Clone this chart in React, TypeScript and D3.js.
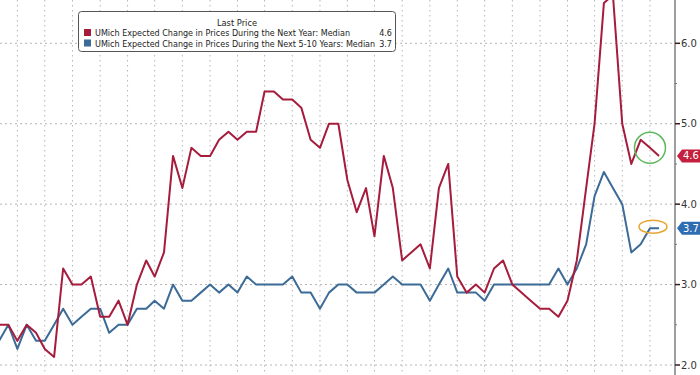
import React, { useEffect, useRef } from 'react';
import * as d3 from 'd3';

// monthly readings, Oct 2019 .. Oct 2025
const startMonth = new Date(2019, 9, 1);
const endMonth = new Date(2025, 9, 1);

const nextYear = [
  2.5, 2.5, 2.3,
  2.5, 2.4, 2.2, 2.1, 3.2, 3.0, 3.0, 3.1, 2.6, 2.6, 2.8, 2.5,
  3.0, 3.3, 3.1, 3.4, 4.6, 4.2, 4.7, 4.6, 4.6, 4.8, 4.9, 4.8,
  4.9, 4.9, 5.4, 5.4, 5.3, 5.3, 5.2, 4.8, 4.7, 5.0, 5.0, 4.3,
  3.9, 4.2, 3.6, 4.6, 4.2, 3.3, 3.4, 3.5, 3.2, 4.2, 4.5, 3.1,
  2.9, 3.0, 2.9, 3.2, 3.3, 3.0, 2.9, 2.8, 2.7, 2.7, 2.6, 2.8,
  3.3, 4.2, 5.0, 6.5, 6.6, 5.0, 4.5, 4.8, 4.7, 4.6,
];

const next5to10 = [
  2.3, 2.5, 2.2,
  2.5, 2.3, 2.3, 2.5, 2.7, 2.5, 2.6, 2.7, 2.7, 2.4, 2.5, 2.5,
  2.7, 2.7, 2.8, 2.7, 3.0, 2.8, 2.8, 2.9, 3.0, 2.9, 3.0, 2.9,
  3.1, 3.0, 3.0, 3.0, 3.0, 3.1, 2.9, 2.9, 2.7, 2.9, 3.0, 3.0,
  2.9, 2.9, 2.9, 3.0, 3.1, 3.0, 3.0, 3.0, 2.8, 3.0, 3.2, 2.9,
  2.9, 2.9, 2.8, 3.0, 3.0, 3.0, 3.0, 3.0, 3.0, 3.0, 3.2, 3.0,
  3.2, 3.5, 4.1, 4.4, 4.2, 4.0, 3.4, 3.5, 3.7, 3.7,
];

const seriesNames = [
  'UMich Expected Change in Prices During the Next Year: Median',
  'UMich Expected Change in Prices During the Next 5-10 Years: Median',
];
const lastLabels = ['4.6', '3.7'];
const yTicks = [2, 3, 4, 5, 6];
const yMinor = [2.5, 3.5, 4.5, 5.5];

const RED = '#a51c3c';
const BLUE = '#3b6b96';
const TAG_RED = '#c41f3e';
const TAG_BLUE = '#2f6db3';

const App: React.FC = () => {
  const svgRef = useRef<SVGSVGElement | null>(null);

  useEffect(() => {
    const svg = d3.select(svgRef.current);
    svg.selectAll('*').remove();

    const width = 700;
    const height = 375;
    const axisX = 675;
    const font = 'DejaVu Sans, sans-serif';

    svg.attr('width', width).attr('height', height);
    svg.append('rect').attr('width', width).attr('height', height).attr('fill', '#fff');

    const months = d3.timeMonth.range(startMonth, d3.timeMonth.offset(endMonth, 1));
    const x = d3.scaleTime().domain([startMonth, endMonth]).range([-1, 659]);
    const y = d3.scaleLinear().domain([2, 6]).range([365, 43.3]);

    svg.append('defs').append('clipPath').attr('id', 'plot')
      .append('rect').attr('x', 0).attr('y', 0).attr('width', axisX).attr('height', height);

    // quarterly vertical grid
    const quarters = months.filter((m) => m.getMonth() % 3 === 2);
    svg.append('g').selectAll('line').data(quarters).join('line')
      .attr('x1', (d) => x(d)).attr('x2', (d) => x(d))
      .attr('y1', 0).attr('y2', height)
      .attr('stroke', '#b5b5b5').attr('stroke-width', 1).attr('stroke-dasharray', '1.5,3.5');

    svg.append('g').selectAll('line').data(yTicks).join('line')
      .attr('x1', 0).attr('x2', axisX)
      .attr('y1', (d) => y(d)).attr('y2', (d) => y(d))
      .attr('stroke', '#b5b5b5').attr('stroke-width', 1).attr('stroke-dasharray', '2,3');

    const line = d3.line<number>()
      .x((_, i) => x(months[i]))
      .y((d) => y(d));

    const plot = svg.append('g').attr('clip-path', 'url(#plot)');
    plot.append('path').datum(next5to10)
      .attr('d', line).attr('fill', 'none')
      .attr('stroke', BLUE).attr('stroke-width', 2).attr('stroke-linejoin', 'round');
    plot.append('path').datum(nextYear)
      .attr('d', line).attr('fill', 'none')
      .attr('stroke', RED).attr('stroke-width', 2).attr('stroke-linejoin', 'round');

    // highlight marks on the latest readings
    const sep = months[months.length - 2];
    svg.append('circle')
      .attr('cx', x(sep)).attr('cy', y(4.7)).attr('r', 15.5)
      .attr('fill', 'none').attr('stroke', '#5cb85c').attr('stroke-width', 1.5);
    svg.append('ellipse')
      .attr('cx', x(sep) + 3).attr('cy', y(3.72)).attr('rx', 14).attr('ry', 6.5)
      .attr('fill', 'none').attr('stroke', '#e8a433').attr('stroke-width', 1.5);

    // right axis
    svg.append('line')
      .attr('x1', axisX).attr('x2', axisX).attr('y1', 0).attr('y2', height)
      .attr('stroke', '#9e9e9e').attr('stroke-width', 2);
    const ax = svg.append('g');
    ax.selectAll('line.major').data(yTicks).join('line').attr('class', 'major')
      .attr('x1', axisX).attr('x2', axisX + 5)
      .attr('y1', (d) => y(d)).attr('y2', (d) => y(d))
      .attr('stroke', '#3a1a22').attr('stroke-width', 1.5);
    ax.selectAll('line.minor').data(yMinor).join('line').attr('class', 'minor')
      .attr('x1', axisX).attr('x2', axisX + 2)
      .attr('y1', (d) => y(d)).attr('y2', (d) => y(d))
      .attr('stroke', '#777').attr('stroke-width', 1);
    ax.selectAll('text').data(yTicks).join('text')
      .attr('x', axisX + 6).attr('y', (d) => y(d)).attr('dy', '0.35em')
      .attr('font-family', font).attr('font-size', 10).attr('fill', '#333')
      .text((d) => d3.format('.1f')(d));

    // last value tags
    const tags = [
      { v: nextYear[nextYear.length - 1], c: TAG_RED, t: lastLabels[0] },
      { v: next5to10[next5to10.length - 1], c: TAG_BLUE, t: lastLabels[1] },
    ];
    tags.forEach((tg) => {
      const yc = y(tg.v);
      svg.append('path')
        .attr('d', `M${axisX + 2},${yc} L${axisX + 7},${yc - 6.5} L${width},${yc - 6.5} L${width},${yc + 6.5} L${axisX + 7},${yc + 6.5} Z`)
        .attr('fill', tg.c);
      svg.append('text')
        .attr('x', axisX + 8).attr('y', yc).attr('dy', '0.36em')
        .attr('font-family', font).attr('font-size', 10).attr('fill', '#fff')
        .text(tg.t);
    });

    // legend
    const lg = svg.append('g');
    lg.append('rect')
      .attr('x', 78.5).attr('y', 11.5).attr('width', 317).attr('height', 40).attr('rx', 3)
      .attr('fill', '#fff').attr('stroke', '#555').attr('stroke-width', 1);
    lg.append('text')
      .attr('x', 237).attr('y', 26).attr('text-anchor', 'middle')
      .attr('font-family', font).attr('font-size', 8.3).attr('fill', '#222')
      .text('Last Price');
    [RED, BLUE].forEach((c, i) => {
      const ry = 36 + i * 10.5;
      lg.append('rect').attr('x', 84).attr('y', ry - 7).attr('width', 7).attr('height', 7).attr('fill', c);
      lg.append('text')
        .attr('x', 95).attr('y', ry)
        .attr('font-family', font).attr('font-size', 8.05).attr('fill', '#222')
        .text(seriesNames[i]);
      lg.append('text')
        .attr('x', 392).attr('y', ry).attr('text-anchor', 'end')
        .attr('font-family', font).attr('font-size', 8.05).attr('fill', '#222')
        .text(lastLabels[i]);
    });
  }, []);

  return <svg ref={svgRef} style={{ position: 'absolute', left: 0, top: 0 }}></svg>;
};

export default App;
